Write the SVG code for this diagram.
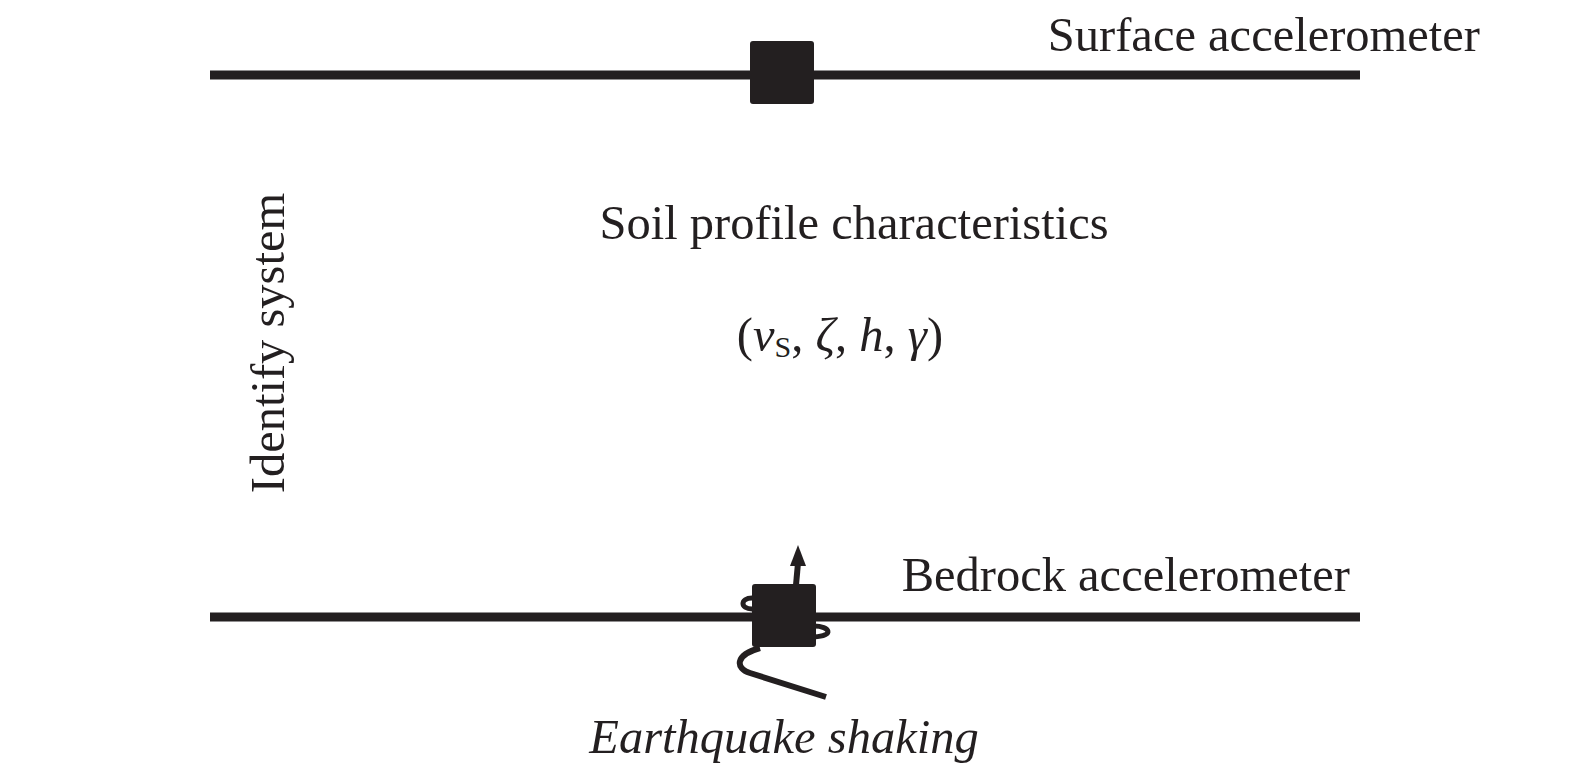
<svg xmlns="http://www.w3.org/2000/svg" width="1575" height="774" viewBox="0 0 1575 774">
<style>
.ln{stroke:#231f20;stroke-width:9;fill:none}
.t{font-family:"Liberation Serif",serif;font-size:48.5px;fill:#231f20}
.box{fill:#231f20}
</style>
<rect width="1575" height="774" fill="#fff"/>
<g id="connectors">
<line class="ln" x1="210" y1="75" x2="1360" y2="75"/>
<line class="ln" x1="210" y1="617" x2="1360" y2="617"/>
</g>
<g id="surface">
<rect class="box" x="750" y="41" width="64" height="63" rx="3"/>
<text class="t" x="1480" y="51" text-anchor="end">Surface accelerometer</text>
</g>
<g id="soil">
<text class="t" x="854" y="239" text-anchor="middle">Soil profile characteristics</text>
<text class="t" x="840" y="351" text-anchor="middle">(<tspan font-style="italic">v</tspan><tspan font-size="30" dy="6">S</tspan><tspan dy="-6">, </tspan><tspan font-style="italic">ζ</tspan>, <tspan font-style="italic">h</tspan>, <tspan font-style="italic">γ</tspan>)</text>
</g>
<g id="identify">
<text class="t" transform="translate(284,343) rotate(-90)" text-anchor="middle">Identify system</text>
</g>
<g id="bedrock">
<path d="M752,609 C740,609 740,598 752,598" stroke="#231f20" stroke-width="5" fill="none"/>
<path d="M814,626 C830,626 835,636 814,637" stroke="#231f20" stroke-width="5" fill="none"/>
<path d="M760,648 C735,655 735,668 750,673 L826,697" stroke="#231f20" stroke-width="6" fill="none"/>
<rect class="box" x="752" y="584" width="64" height="63" rx="3"/>
<path d="M796,585 L798,563" stroke="#231f20" stroke-width="6" fill="none"/>
<polygon points="790,566 806,566 798,545" fill="#231f20"/>
<text class="t" x="1350" y="591" text-anchor="end">Bedrock accelerometer</text>
<text class="t" x="784" y="753" text-anchor="middle" font-style="italic">Earthquake shaking</text>
</g>
</svg>
